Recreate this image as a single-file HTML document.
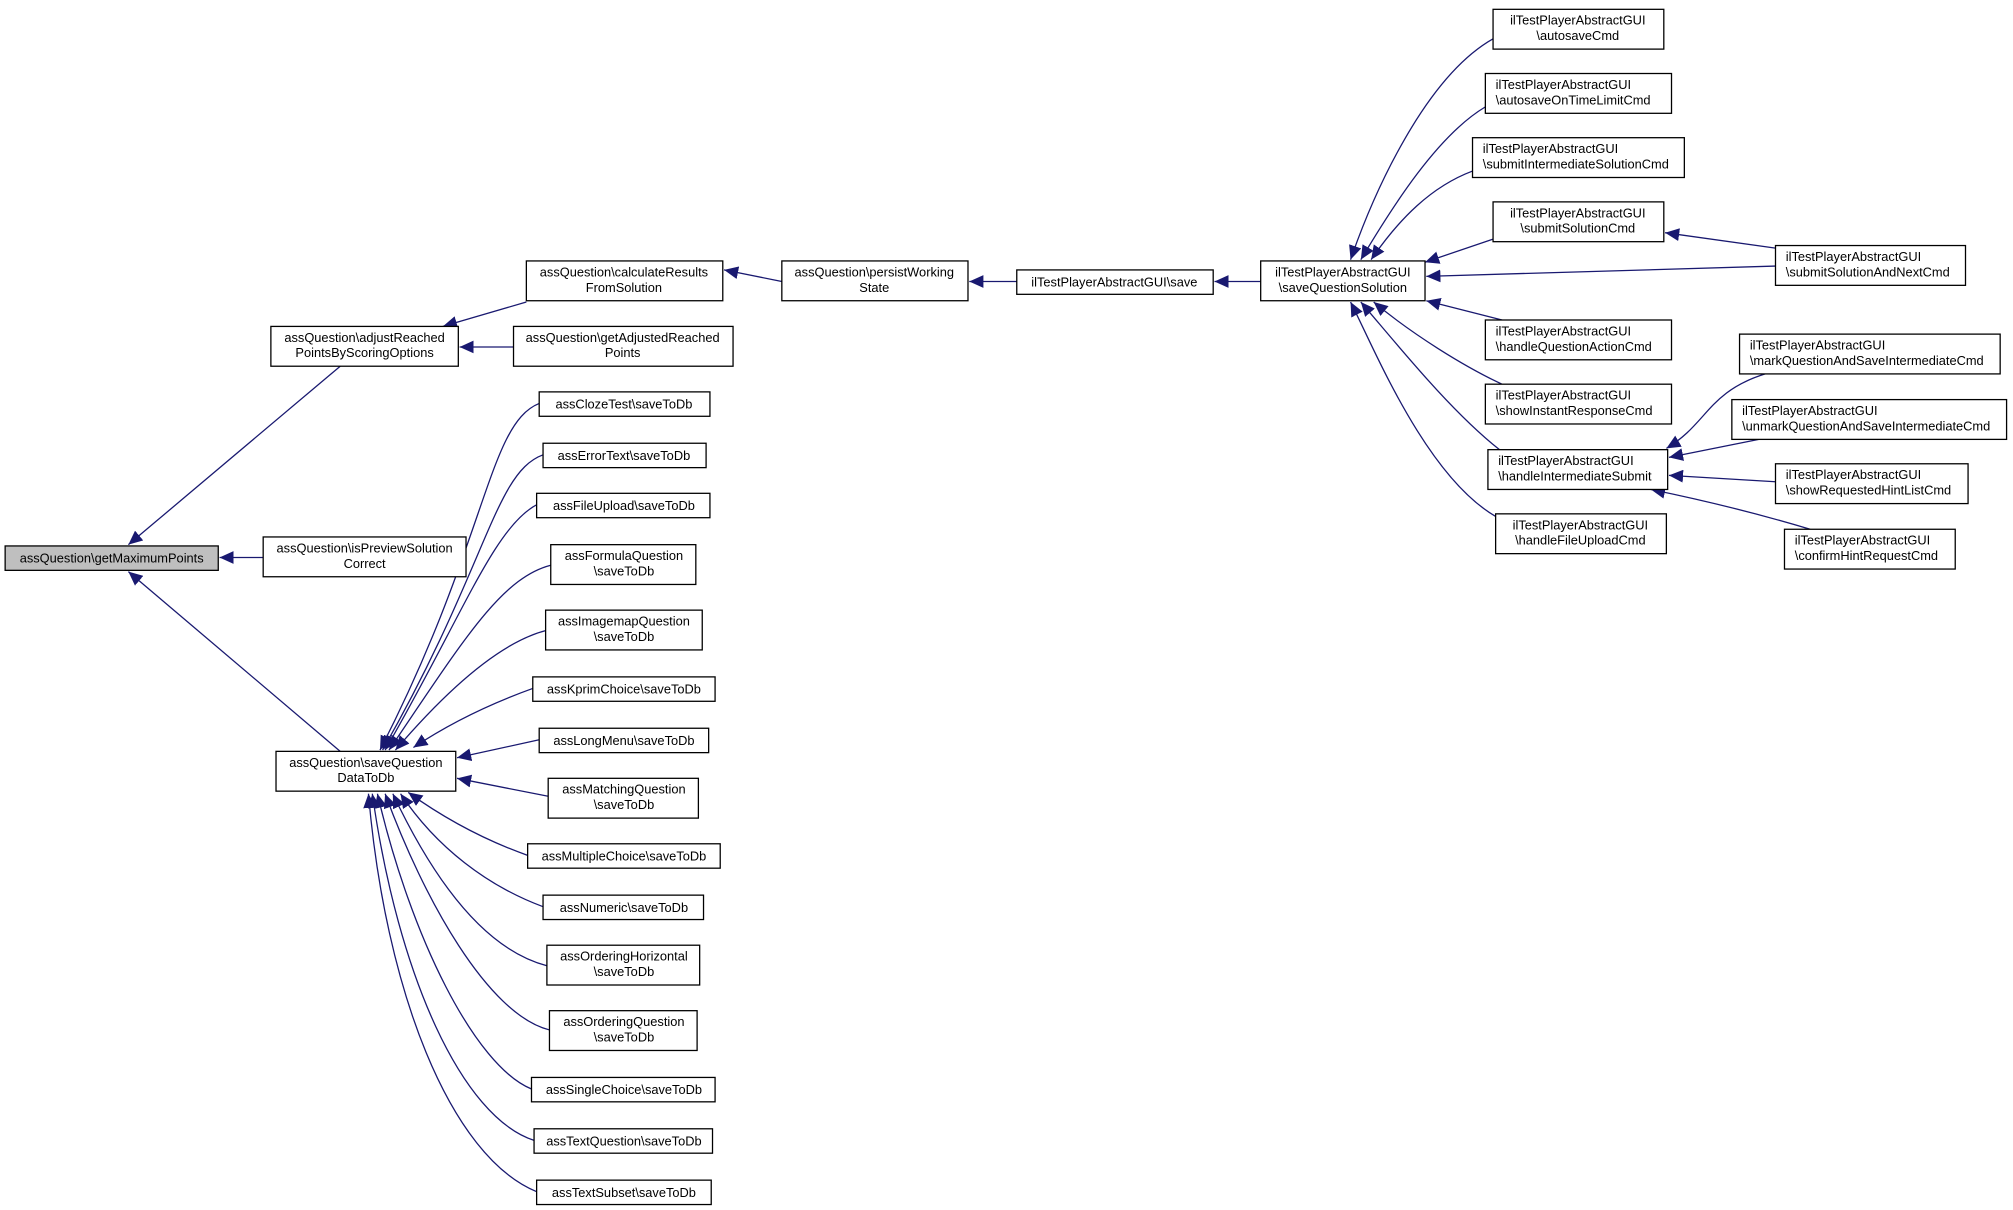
<!DOCTYPE html>
<html><head><meta charset="utf-8"><style>html,body{margin:0;padding:0;background:#fff}svg{display:block}text{font-family:"Liberation Sans",sans-serif;font-size:10px;fill:#000}</style></head><body>
<svg width="2013" height="1210" viewBox="0 0 1568 942" xmlns="http://www.w3.org/2000/svg">
<defs><marker id="a" markerUnits="userSpaceOnUse" markerWidth="12" markerHeight="10" refX="11" refY="5" orient="auto"><path d="M0,0 L11,5 L0,10 Z" fill="#191970"/></marker></defs>
<g fill="none" stroke="#191970" stroke-width="1" marker-end="url(#a)">
<path d="M265,285 L100,424"/>
<path d="M205,434 L171,434"/>
<path d="M265,585 L100,445"/>
<path d="M410,235 L345,254"/>
<path d="M400,270 L358,270"/>
<path d="M609,219 L564,210"/>
<path d="M792,219 L755,219"/>
<path d="M982,219 L946,219"/>
<path d="M420,314 C380,330 380,420 296,584"/>
<path d="M423,354 C385,368 380,440 298,584"/>
<path d="M418,393 C385,410 360,480 300,584"/>
<path d="M429,440 C390,450 360,500 303,584"/>
<path d="M425,491 C390,500 350,535 308,584"/>
<path d="M415,536 C390,545 355,560 322,582"/>
<path d="M420,576 L356,590"/>
<path d="M427,620 L356,606"/>
<path d="M411,666 C380,655 350,640 318,617"/>
<path d="M423,706 C380,690 340,660 312,618"/>
<path d="M426,752 C380,740 340,690 306,618"/>
<path d="M428,802 C380,790 330,700 300,618"/>
<path d="M414,848 C370,830 320,730 294,618"/>
<path d="M416,888 C360,870 310,760 290,618"/>
<path d="M418,928 C350,900 300,770 287,618"/>
<path d="M1163,30 C1110,60 1070,150 1052,202"/>
<path d="M1157,83 C1120,105 1085,160 1060,202"/>
<path d="M1147,133 C1115,145 1090,170 1068,202"/>
<path d="M1163,186 L1110,204"/>
<path d="M1383,207 L1111,215"/>
<path d="M1383,193 L1297,181"/>
<path d="M1170,249 L1111,234"/>
<path d="M1170,299 C1140,285 1100,260 1070,235"/>
<path d="M1168,350 C1130,320 1090,270 1060,235"/>
<path d="M1165,402 C1110,370 1070,270 1052,235"/>
<path d="M1375,291 C1330,305 1330,330 1298,349"/>
<path d="M1370,342 L1300,356"/>
<path d="M1383,375 L1300,370"/>
<path d="M1410,412 C1370,400 1330,390 1286,381"/>
</g>
<g stroke="#000" stroke-width="1" fill="#fff">
<rect x="4" y="425" width="166" height="19" fill="#bfbfbf"/>
<rect x="211" y="254" width="146" height="31"/>
<rect x="205" y="418" width="158" height="31"/>
<rect x="215" y="585" width="140" height="31"/>
<rect x="410" y="203" width="153" height="31"/>
<rect x="400" y="254" width="171" height="31"/>
<rect x="609" y="203" width="145" height="31"/>
<rect x="792" y="210" width="153" height="19"/>
<rect x="982" y="203" width="128" height="31"/>
<rect x="1163" y="7" width="133" height="31"/>
<rect x="1157" y="57" width="145" height="31"/>
<rect x="1147" y="107" width="165" height="31"/>
<rect x="1163" y="157" width="133" height="31"/>
<rect x="1157" y="249" width="145" height="31"/>
<rect x="1157" y="299" width="145" height="31"/>
<rect x="1159" y="350" width="140" height="31"/>
<rect x="1165" y="400" width="133" height="31"/>
<rect x="1383" y="191" width="148" height="31"/>
<rect x="1355" y="260" width="203" height="31"/>
<rect x="1349" y="311" width="214" height="31"/>
<rect x="1383" y="361" width="150" height="31"/>
<rect x="1390" y="412" width="133" height="31"/>
<rect x="420" y="305" width="133" height="19"/>
<rect x="423" y="345" width="127" height="19"/>
<rect x="418" y="384" width="135" height="19"/>
<rect x="429" y="424" width="113" height="31"/>
<rect x="425" y="475" width="122" height="31"/>
<rect x="415" y="527" width="142" height="19"/>
<rect x="420" y="567" width="132" height="19"/>
<rect x="427" y="606" width="117" height="31"/>
<rect x="411" y="657" width="150" height="19"/>
<rect x="423" y="697" width="125" height="19"/>
<rect x="426" y="736" width="119" height="31"/>
<rect x="428" y="787" width="115" height="31"/>
<rect x="414" y="839" width="143" height="19"/>
<rect x="416" y="879" width="139" height="19"/>
<rect x="418" y="919" width="136" height="19"/>
</g>
<g text-anchor="middle">
<text x="87" y="438">assQuestion\getMaximumPoints</text>
<text x="284" y="266">assQuestion\adjustReached</text><text x="284" y="278">PointsByScoringOptions</text>
<text x="284" y="430">assQuestion\isPreviewSolution</text><text x="284" y="442">Correct</text>
<text x="285" y="597">assQuestion\saveQuestion</text><text x="285" y="609">DataToDb</text>
<text x="486" y="215">assQuestion\calculateResults</text><text x="486" y="227">FromSolution</text>
<text x="485" y="266">assQuestion\getAdjustedReached</text><text x="485" y="278">Points</text>
<text x="681" y="215">assQuestion\persistWorking</text><text x="681" y="227">State</text>
<text x="868" y="223">ilTestPlayerAbstractGUI\save</text>
<text x="1046" y="215">ilTestPlayerAbstractGUI</text><text x="1046" y="227">\saveQuestionSolution</text>
<text x="1229" y="19">ilTestPlayerAbstractGUI</text><text x="1229" y="31">\autosaveCmd</text>
<text x="1229" y="169">ilTestPlayerAbstractGUI</text><text x="1229" y="181">\submitSolutionCmd</text>
<text x="1231" y="412">ilTestPlayerAbstractGUI</text><text x="1231" y="424">\handleFileUploadCmd</text>
<text x="486" y="318">assClozeTest\saveToDb</text>
<text x="486" y="358">assErrorText\saveToDb</text>
<text x="486" y="397">assFileUpload\saveToDb</text>
<text x="486" y="436">assFormulaQuestion</text><text x="486" y="448">\saveToDb</text>
<text x="486" y="487">assImagemapQuestion</text><text x="486" y="499">\saveToDb</text>
<text x="486" y="540">assKprimChoice\saveToDb</text>
<text x="486" y="580">assLongMenu\saveToDb</text>
<text x="486" y="618">assMatchingQuestion</text><text x="486" y="630">\saveToDb</text>
<text x="486" y="670">assMultipleChoice\saveToDb</text>
<text x="486" y="710">assNumeric\saveToDb</text>
<text x="486" y="748">assOrderingHorizontal</text><text x="486" y="760">\saveToDb</text>
<text x="486" y="799">assOrderingQuestion</text><text x="486" y="811">\saveToDb</text>
<text x="486" y="852">assSingleChoice\saveToDb</text>
<text x="486" y="892">assTextQuestion\saveToDb</text>
<text x="486" y="932">assTextSubset\saveToDb</text>
</g>
<g>
<text x="1165" y="69">ilTestPlayerAbstractGUI</text><text x="1165" y="81">\autosaveOnTimeLimitCmd</text>
<text x="1155" y="119">ilTestPlayerAbstractGUI</text><text x="1155" y="131">\submitIntermediateSolutionCmd</text>
<text x="1165" y="261">ilTestPlayerAbstractGUI</text><text x="1165" y="273">\handleQuestionActionCmd</text>
<text x="1165" y="311">ilTestPlayerAbstractGUI</text><text x="1165" y="323">\showInstantResponseCmd</text>
<text x="1167" y="362">ilTestPlayerAbstractGUI</text><text x="1167" y="374">\handleIntermediateSubmit</text>
<text x="1391" y="203">ilTestPlayerAbstractGUI</text><text x="1391" y="215">\submitSolutionAndNextCmd</text>
<text x="1363" y="272">ilTestPlayerAbstractGUI</text><text x="1363" y="284">\markQuestionAndSaveIntermediateCmd</text>
<text x="1357" y="323">ilTestPlayerAbstractGUI</text><text x="1357" y="335">\unmarkQuestionAndSaveIntermediateCmd</text>
<text x="1391" y="373">ilTestPlayerAbstractGUI</text><text x="1391" y="385">\showRequestedHintListCmd</text>
<text x="1398" y="424">ilTestPlayerAbstractGUI</text><text x="1398" y="436">\confirmHintRequestCmd</text>
</g>
</svg>
</body></html>
